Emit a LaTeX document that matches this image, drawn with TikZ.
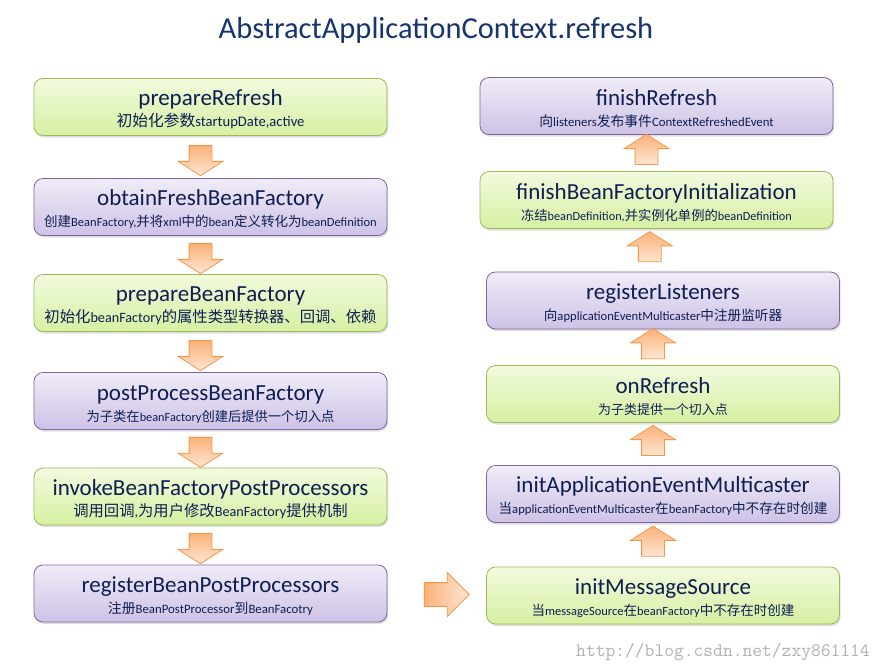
\documentclass[tikz,border=0pt]{standalone}
\usepackage{fontspec}
\setmainfont{Carlito}
\newfontfamily\cjk[Scale=1.08]{Noto Sans CJK SC}
\usepackage{tikz}
\usetikzlibrary{calc,shapes.arrows,shadows}
\definecolor{titleblue}{RGB}{23,52,110}
\definecolor{textnavy}{RGB}{14,30,82}
\definecolor{greenA}{RGB}{242,250,222}
\definecolor{greenB}{RGB}{214,240,162}
\definecolor{greenD}{RGB}{155,187,89}
\definecolor{purpA}{RGB}{240,236,248}
\definecolor{purpB}{RGB}{206,194,230}
\definecolor{purpD}{RGB}{128,100,162}
\definecolor{arrA}{RGB}{250,178,120}
\definecolor{arrB}{RGB}{254,230,212}
\definecolor{arrD}{RGB}{247,150,70}
\newcommand{\zh}[1]{{\cjk #1}}
\newcommand{\mainlbl}[1]{{\fontsize{23}{21}\selectfont\rule{0pt}{21pt}#1}}
\newcommand{\sublbl}[2][12.5]{{\fontsize{#1}{21}\selectfont #2}}

\begin{document}
\begin{tikzpicture}[x=1pt,y=-1pt,
	box/.style={rounded corners=9pt, minimum width=353pt, minimum height=57pt,
		align=center, text=textnavy, line width=0.8pt, inner sep=0pt,
		font=\fontsize{12}{21}\selectfont,
		drop shadow={opacity=0.25, shadow xshift=1.2pt, shadow yshift=-2pt}},
	greenbox/.style={box, draw=greenD, top color=greenA, bottom color=greenB},
	purpbox/.style={box, draw=purpD, top color=purpA, bottom color=purpB},
	blockarrow/.style={single arrow, draw=arrD, line width=0.8pt, inner sep=11pt,
		top color=arrA, bottom color=arrB, single arrow head extend=11pt,
		minimum width=44pt, minimum height=30pt},
	downarrow/.style={blockarrow, shape border rotate=270, single arrow tip angle=115},
	uparrow/.style={blockarrow, shape border rotate=90, single arrow tip angle=115},
	rightarrow/.style={blockarrow, inner sep=11.5pt, minimum height=45pt, minimum width=43pt,
		single arrow head extend=10pt, single arrow tip angle=90,
		left color=arrA, right color=arrB}
	]
	\fill[white] (0,0) rectangle (886,670);
	\useasboundingbox (0,0) rectangle (886,670);

	\node[text=titleblue, font=\fontsize{30.5}{34}\selectfont] (title) at (436,30) {AbstractApplicationContext.refresh};

	% left column
	\node[greenbox] (pr) at (210.5,107) {\mainlbl{prepareRefresh}\\\sublbl[14.6]{\zh{初始化参数}startupDate,active}};
	\node[purpbox] (ofb) at (210.5,207) {\mainlbl{obtainFreshBeanFactory}\\\sublbl[12.5]{\zh{创建}BeanFactory,\zh{并将}xml\zh{中的}bean\zh{定义转化为}beanDefinition}};
	\node[greenbox] (pbf) at (210.5,303) {\mainlbl{prepareBeanFactory}\\\sublbl[14.2]{\zh{初始化}beanFactory\zh{的属性类型转换器、回调、依赖}}};
	\node[purpbox] (ppbf) at (210.5,401) {\mainlbl{postProcessBeanFactory}\\\sublbl[12.3]{\zh{为子类在}beanFactory\zh{创建后提供一个切入点}}};
	\node[greenbox] (ibfpp) at (210.5,496.5) {\mainlbl{invokeBeanFactoryPostProcessors}\\\sublbl[14.2]{\zh{调用回调},\zh{为用户修改}BeanFactory\zh{提供机制}}};
	\node[purpbox] (rbpp) at (210.5,593.5) {\mainlbl{registerBeanPostProcessors}\\\sublbl[12.8]{\zh{注册}BeanPostProcessor\zh{到}BeanFacotry}};

	% right column
	\node[purpbox] (fr) at (656.5,106) {\mainlbl{finishRefresh}\\\sublbl[12.8]{\zh{向}listeners\zh{发布事件}ContextRefreshedEvent}};
	\node[greenbox] (fbfi) at (656.5,200) {\mainlbl{finishBeanFactoryInitialization}\\\sublbl[12.3]{\zh{冻结}beanDefinition,\zh{并实例化单例的}beanDefinition}};
	\node[purpbox] (rl) at (663,300.5) {\mainlbl{registerListeners}\\\sublbl[12.6]{\zh{向}applicationEventMulticaster\zh{中注册监听器}}};
	\node[greenbox] (or) at (663,394) {\mainlbl{onRefresh}\\\sublbl[12]{\zh{为子类提供一个切入点}}};
	\node[purpbox] (iaem) at (663,494) {\mainlbl{initApplicationEventMulticaster}\\\sublbl[12.6]{\zh{当}applicationEventMulticaster\zh{在}beanFactory\zh{中不存在时创建}}};
	\node[greenbox] (ims) at (663,595.5) {\mainlbl{initMessageSource}\\\sublbl[12.5]{\zh{当}messageSource\zh{在}beanFactory\zh{中不存在时创建}}};

	% arrows
	\node[downarrow, xshift=-10pt] (a1) at ($(pr.south)!0.5!(ofb.north)$) {};
	\node[downarrow, xshift=-10pt] (a2) at ($(ofb.south)!0.5!(pbf.north)$) {};
	\node[downarrow, xshift=-10pt] (a3) at ($(pbf.south)!0.5!(ppbf.north)$) {};
	\node[downarrow, xshift=-10pt] (a4) at ($(ppbf.south)!0.5!(ibfpp.north)$) {};
	\node[downarrow, xshift=-10pt] (a5) at ($(ibfpp.south)!0.5!(rbpp.north)$) {};
	\node[rightarrow, xshift=4pt] (a6) at ($(rbpp.east)!0.5!(ims.west)$) {};
	\node[uparrow, xshift=-10pt] (a7) at ($(ims.north)!0.5!(iaem.south)$) {};
	\node[uparrow, xshift=-10pt] (a8) at ($(iaem.north)!0.5!(or.south)$) {};
	\node[uparrow, xshift=-10pt] (a9) at ($(or.north)!0.5!(rl.south)$) {};
	\node[uparrow, xshift=-10pt] (a10) at ($(rl.north)!0.5!(fbfi.south)$) {};
	\node[uparrow, xshift=-10pt] (a11) at ($(fbfi.north)!0.5!(fr.south)$) {};

	\node[text=black!30, font=\ttfamily\fontsize{19}{20}\selectfont] (wm) at (723,652) {http://blog.csdn.net/zxy861114};
\end{tikzpicture}
\end{document}
